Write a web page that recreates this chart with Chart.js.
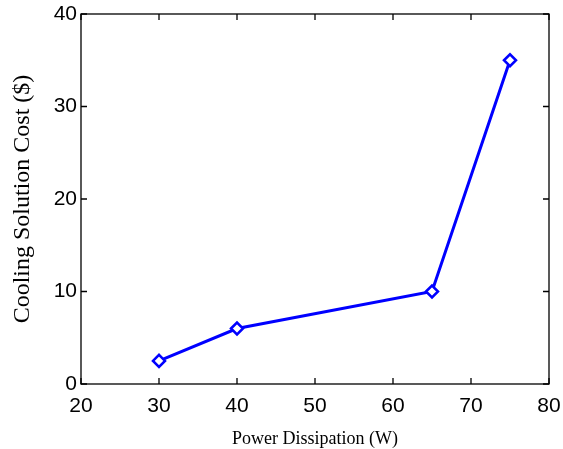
<!DOCTYPE html>
<html>
<head>
<meta charset="utf-8">
<script src="https://cdn.jsdelivr.net/npm/chart.js@4/dist/chart.umd.min.js"></script>
<style>
  html, body { margin: 0; padding: 0; background: #fff; }
  #wrap { width: 563px; height: 449px; }
</style>
</head>
<body>
<div id="wrap"><canvas id="chart" width="563" height="449"></canvas></div>
<script>
const powerW = [30, 40, 65, 75];
const costUSD = [2.5, 6, 10, 35];
const xTicks = [20, 30, 40, 50, 60, 70, 80];
const yTicks = [0, 10, 20, 30, 40];

const tickFont = { family: "Liberation Sans, Arial, sans-serif", size: 21 };
const xTitleFont = { family: "Liberation Serif, DejaVu Serif, serif", size: 18 };
const yTitleFont = { family: "Liberation Serif, DejaVu Serif, serif", size: 24 };

// box around plot area with inward ticks, matlab style
const boxPlugin = {
  id: "box",
  afterDraw(chart) {
    const c = chart.ctx;
    const a = chart.chartArea;
    const xs = chart.scales.x, ys = chart.scales.y;
    const len = 6;
    c.save();
    c.strokeStyle = "#000";
    c.lineWidth = 1.3;
    c.strokeRect(a.left, a.top, a.right - a.left, a.bottom - a.top);
    c.beginPath();
    xTicks.forEach(v => {
      const px = xs.getPixelForValue(v);
      c.moveTo(px, a.bottom); c.lineTo(px, a.bottom - len);
      c.moveTo(px, a.top); c.lineTo(px, a.top + len);
    });
    yTicks.forEach(v => {
      const py = ys.getPixelForValue(v);
      c.moveTo(a.left, py); c.lineTo(a.left + len, py);
      c.moveTo(a.right, py); c.lineTo(a.right - len, py);
    });
    c.stroke();
    c.restore();
  }
};

new Chart(document.getElementById("chart"), {
  type: "scatter",
  data: {
    datasets: [{
      data: powerW.map((x, i) => ({ x: x, y: costUSD[i] })),
      showLine: true,
      borderColor: "#0000ff",
      borderWidth: 3,
      pointStyle: "rectRot",
      pointRadius: 6,
      pointBorderWidth: 2.5,
      pointBorderColor: "#0000ff",
      pointBackgroundColor: "#ffffff",
      tension: 0
    }]
  },
  options: {
    responsive: false,
    animation: false,
    layout: { padding: { top: 14, right: 14, left: 0, bottom: 0 } },
    plugins: { legend: { display: false }, tooltip: { enabled: false } },
    scales: {
      x: {
        type: "linear",
        min: 20, max: 80,
        afterBuildTicks(s) { s.ticks = xTicks.map(v => ({ value: v })); },
        afterFit(s) { s.height = 65; s.paddingLeft = 0; s.paddingRight = 0; },
        grid: { display: false, drawTicks: false },
        border: { display: false },
        ticks: { color: "#000", font: tickFont, padding: 10, maxRotation: 0 },
        title: { display: true, text: "Power Dissipation (W)", color: "#000", font: xTitleFont, padding: { top: 0, bottom: -1.5 } }
      },
      y: {
        type: "linear",
        min: 0, max: 40,
        afterBuildTicks(s) { s.ticks = yTicks.map(v => ({ value: v })); },
        afterFit(s) { s.width = 81; s.paddingTop = 0; s.paddingBottom = 0; },
        grid: { display: false, drawTicks: false },
        border: { display: false },
        ticks: { color: "#000", font: tickFont, padding: 4 },
        title: { display: true, text: "Cooling Solution Cost ($)", color: "#000", font: yTitleFont, padding: { top: 8, bottom: 0 } }
      }
    }
  },
  plugins: [boxPlugin]
});
</script>
</body>
</html>
